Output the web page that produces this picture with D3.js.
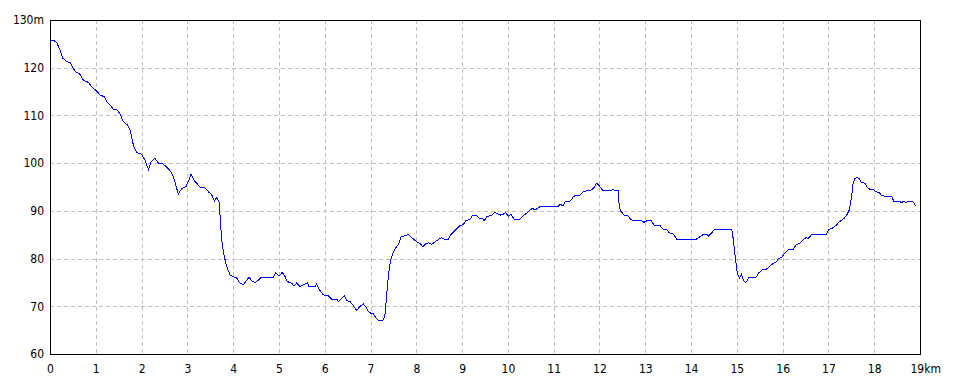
<!DOCTYPE html>
<html>
<head>
<meta charset="utf-8">
<script src="https://cdn.jsdelivr.net/npm/d3@7"></script>
<style>
  body { margin: 0; background: #fff; }
  svg text { font-family: "Liberation Sans Narrow", "DejaVu Sans Condensed", sans-serif; font-size: 12px; fill: #000; }
</style>
</head>
<body>
<div id="container"></div>
<script>
// distance along route (km) and elevation (m)
var distKm = [0.00,0.02,0.07,0.15,0.22,0.28,0.36,0.44,0.55,0.64,0.73,0.84,0.91,1.02,1.09,1.19,1.24,1.33,1.38,1.47,
  1.53,1.60,1.69,1.75,1.82,1.89,2.00,2.07,2.15,2.21,2.29,2.37,2.47,2.58,2.66,2.73,2.80,2.88,2.97,3.02,
  3.08,3.17,3.28,3.38,3.46,3.53,3.59,3.64,3.69,3.71,3.75,3.79,3.86,3.93,4.00,4.08,4.13,4.22,4.30,4.35,
  4.40,4.48,4.55,4.62,4.88,4.93,5.00,5.07,5.13,5.18,5.28,5.33,5.39,5.46,5.53,5.62,5.66,5.79,5.82,5.91,
  5.97,6.08,6.15,6.26,6.30,6.37,6.43,6.48,6.55,6.61,6.70,6.76,6.84,6.90,6.95,7.03,7.06,7.12,7.17,7.27,
  7.31,7.35,7.39,7.44,7.50,7.57,7.63,7.66,7.73,7.83,7.90,8.01,8.08,8.14,8.19,8.26,8.34,8.44,8.55,8.63,
  8.70,8.74,8.84,8.94,9.03,9.08,9.17,9.23,9.30,9.38,9.45,9.48,9.54,9.65,9.72,9.83,9.90,9.95,10.01,10.07,
  10.13,10.20,10.26,10.32,10.41,10.48,10.54,10.59,10.65,10.72,10.79,10.88,11.10,11.15,11.20,11.25,11.34,11.39,11.43,11.50,
  11.57,11.63,11.72,11.83,11.88,11.94,12.00,12.08,12.24,12.29,12.34,12.41,12.43,12.46,12.54,12.63,12.68,12.78,12.92,12.97,
  13.03,13.13,13.19,13.32,13.38,13.47,13.52,13.62,13.68,14.12,14.20,14.27,14.34,14.38,14.45,14.51,14.89,14.92,14.96,15.00,
  15.03,15.06,15.10,15.14,15.18,15.21,15.27,15.42,15.48,15.58,15.65,15.72,15.78,15.86,15.91,15.98,16.03,16.12,16.23,16.29,
  16.38,16.44,16.51,16.56,16.64,16.96,17.00,17.11,17.17,17.24,17.34,17.40,17.46,17.51,17.54,17.58,17.62,17.67,17.72,17.80,
  17.85,17.91,17.98,18.04,18.11,18.16,18.23,18.38,18.43,18.56,18.59,18.64,18.70,18.74,18.84,18.88,18.90];
var elevM = [125.5,125.7,125.8,125.2,123.7,122.0,121.3,121.1,119.2,118.8,117.4,116.9,116.0,115.1,114.3,113.9,112.9,112.0,111.3,111.1,
  110.3,108.7,108.0,106.9,103.8,102.2,101.9,100.7,98.7,100.3,101.0,100.0,99.8,98.9,97.9,96.1,93.5,94.7,95.1,96.1,
  97.7,96.1,95.0,94.9,94.0,93.4,92.1,92.8,91.9,89.5,83.9,81.1,78.3,76.6,76.2,75.9,75.0,74.5,75.5,76.1,
  75.4,74.9,75.5,76.1,76.1,77.0,76.3,77.1,76.3,75.2,74.8,74.2,74.9,74.1,74.5,74.9,74.1,74.1,74.6,73.1,
  72.4,72.2,71.5,71.5,71.0,71.7,72.2,71.2,71.0,70.3,69.1,69.9,70.5,69.9,68.9,68.4,68.5,67.5,67.0,67.0,
  67.8,72.0,76.5,79.7,81.4,82.5,83.3,84.5,84.7,85.1,84.4,83.5,83.2,82.5,83.0,83.3,83.0,83.7,84.4,84.0,
  84.0,84.9,85.8,86.8,87.2,87.9,88.2,89.1,89.1,88.4,88.4,87.9,88.8,89.1,89.7,89.1,89.3,89.6,88.9,89.3,
  88.3,88.1,88.2,88.9,89.5,90.2,90.5,90.2,90.5,91.0,90.8,91.0,91.0,91.4,91.0,91.9,91.9,92.4,93.0,93.3,
  93.3,93.9,94.2,94.4,94.9,95.8,95.2,94.2,94.2,94.5,94.2,94.2,91.2,90.0,89.1,88.9,88.2,87.9,88.0,87.6,
  87.9,88.0,87.0,87.0,86.2,86.1,85.4,85.1,84.1,84.1,84.6,85.1,85.1,84.7,85.4,86.1,86.1,84.2,80.8,77.6,
  76.3,75.9,76.7,75.6,75.0,75.1,76.1,76.1,77.0,77.8,77.8,78.4,78.9,79.3,80.0,80.2,81.0,81.8,81.9,82.8,
  83.3,83.9,84.4,84.2,85.1,85.1,86.0,86.5,87.0,87.7,88.4,89.1,90.3,93.3,95.8,96.8,97.0,96.8,95.9,95.8,
  94.9,94.5,94.5,94.0,93.8,93.2,93.1,93.1,91.9,91.9,91.8,91.9,91.8,92.0,91.9,91.6,91.0];

var xTicks = d3.range(0, 20);      // 0..19 km
var yTicks = d3.range(60, 131, 10); // 60..130 m

var margin = {top: 20, right: 40, bottom: 30, left: 50},
  width = 960 - margin.left - margin.right,
  height = 384 - margin.top - margin.bottom;

var svg = d3.select("#container").append("svg")
  .attr("width", 960)
  .attr("height", 384);
var g = svg.append("g")
  .attr("transform", "translate(" + margin.left + "," + margin.top + ")");

var x = d3.scaleLinear().domain([0, 19]).range([0, 870]);
var y = d3.scaleLinear().domain([60, 130]).range([334, 0]);

// dashed grid
g.selectAll(".vgrid")
  .data(xTicks.slice(1, -1))
  .enter().append("line")
  .attr("x1", d => Math.round(x(d)) + 0.5).attr("x2", d => Math.round(x(d)) + 0.5)
  .attr("y1", 0).attr("y2", 334)
  .attr("stroke", "#c0c0c0").attr("stroke-dasharray", "4,3");
g.selectAll(".hgrid")
  .data(yTicks.slice(1, -1))
  .enter().append("line")
  .attr("y1", d => Math.round(y(d)) + 0.5).attr("y2", d => Math.round(y(d)) + 0.5)
  .attr("x1", 0).attr("x2", 870)
  .attr("stroke", "#c0c0c0").attr("stroke-dasharray", "4,3");

// frame
g.append("rect")
  .attr("x", 0.5).attr("y", 0.5)
  .attr("width", 870).attr("height", 334)
  .attr("fill", "none").attr("stroke", "#000");

// axes (labels only)
var xAxis = g.append("g")
  .attr("transform", "translate(0,334)")
  .call(d3.axisBottom(x).tickValues(xTicks).tickSize(0).tickPadding(10)
    .tickFormat(d => d == 19 ? "19km" : d));
xAxis.select(".domain").remove();
xAxis.selectAll("text").filter(d => d == 19).attr("text-anchor", "start").attr("dx", "-10");

var yAxis = g.append("g")
  .call(d3.axisLeft(y).tickValues(yTicks).tickSize(0).tickPadding(6)
    .tickFormat(d => d == 130 ? "130m" : d));
yAxis.select(".domain").remove();

// profile line
var line = d3.line()
  .x((d, i) => x(distKm[i]))
  .y(d => y(d));
g.append("path")
  .datum(elevM)
  .attr("d", line)
  .attr("fill", "none")
  .attr("stroke", "#0000ff")
  .attr("stroke-width", 1)
  .attr("shape-rendering", "crispEdges");
</script>
</body>
</html>
